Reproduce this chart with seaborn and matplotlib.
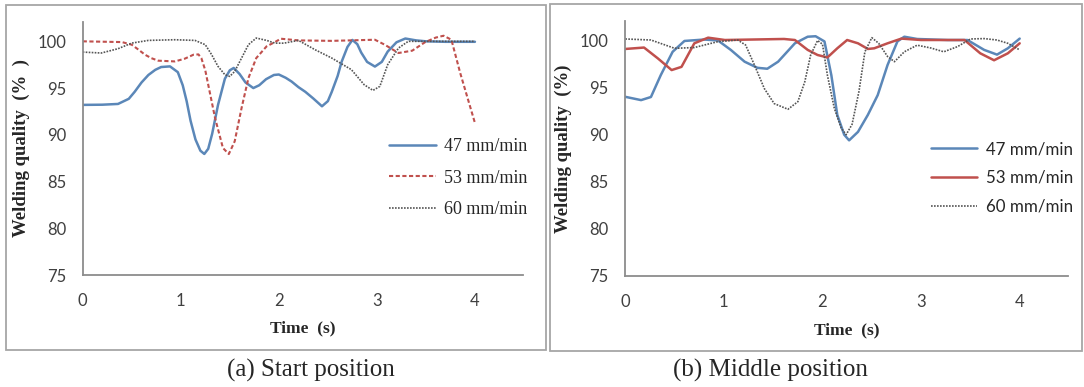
import numpy as np
import pandas as pd
import matplotlib.pyplot as plt
import seaborn as sns
from matplotlib.patches import Rectangle

# (a) start position
t_a_47 = [0, 0.2, 0.36, 0.47, 0.53, 0.6, 0.67, 0.74, 0.8, 0.89, 0.97, 1.02, 1.06, 1.1, 1.15,
          1.2, 1.24, 1.28, 1.32, 1.38, 1.45, 1.5, 1.54, 1.6, 1.66, 1.74, 1.8, 1.87, 1.95, 2.0,
          2.07, 2.13, 2.2, 2.27, 2.35, 2.44, 2.5, 2.54, 2.6, 2.64, 2.7, 2.75, 2.8, 2.84, 2.9,
          2.98, 3.05, 3.11, 3.2, 3.29, 3.4, 3.5, 3.7, 4.0]
q_a_47 = [93.2, 93.22, 93.3, 93.85, 94.6, 95.6, 96.4, 96.95, 97.25, 97.32, 96.7, 95.3, 93.6, 91.5, 89.5,
          88.3, 87.95, 88.5, 90.1, 93.2, 96.0, 96.9, 97.15, 96.5, 95.6, 95.0, 95.3, 95.95, 96.4, 96.45,
          96.1, 95.7, 95.1, 94.6, 93.9, 93.05, 93.6, 94.6, 96.3, 97.8, 99.4, 100.15, 99.7, 98.8, 97.8,
          97.3, 97.8, 98.9, 99.9, 100.3, 100.1, 100.0, 99.95, 99.95]

t_a_53 = [0, 0.4, 0.5, 0.57, 0.635, 0.7, 0.77, 0.94, 1.04, 1.13, 1.18, 1.21, 1.25, 1.28, 1.35,
          1.43, 1.49, 1.55, 1.62, 1.69, 1.77, 1.875, 1.96, 2.02, 2.2, 2.54, 2.98, 3.08, 3.22,
          3.36, 3.49, 3.6, 3.68, 3.76, 3.85, 3.93, 4.0]
q_a_53 = [100.0, 99.92, 99.64, 99.1, 98.57, 98.2, 97.93, 97.85, 98.14, 98.57, 98.6, 98.2, 96.9, 95.36, 91.79,
          88.59, 87.94, 89.3, 92.86, 96.07, 98.21, 99.46, 99.92, 100.28, 100.1, 100.05, 100.17, 99.64, 98.75,
          99.0, 99.9, 100.4, 100.6, 100.17, 96.6, 93.75, 91.26]

t_a_60 = [0, 0.19, 0.36, 0.5, 0.67, 0.94, 1.145, 1.25, 1.315, 1.38, 1.45, 1.5, 1.55, 1.62, 1.69,
          1.77, 1.875, 1.96, 2.05, 2.2, 2.37, 2.54, 2.74, 2.87, 2.96, 3.03, 3.11, 3.22, 3.32, 3.6, 4.0]
q_a_60 = [98.85, 98.75, 99.21, 99.81, 100.1, 100.17, 100.1, 99.64, 98.57, 97.32, 96.43, 96.25, 96.78, 98.21, 99.64,
          100.35, 100.1, 99.81, 99.8, 100.1, 99.1, 98.21, 96.97, 95.36, 94.75, 95.18, 97.5, 99.28, 100.0, 100.0, 100.0]

# (b) middle position
t_b_47 = [0, 0.16, 0.26, 0.36, 0.48, 0.6, 0.8, 0.94, 1.07, 1.21, 1.34, 1.44, 1.55, 1.72, 1.85,
          1.93, 2.02, 2.09, 2.15, 2.22, 2.27, 2.36, 2.46, 2.56, 2.66, 2.76, 2.83, 2.96, 3.27, 3.47,
          3.64, 3.77, 3.88, 4.0]
q_b_47 = [94.02, 93.67, 94.0, 96.33, 98.8, 99.95, 100.1, 100.0, 99.0, 97.75, 97.1, 97.0, 97.75, 99.7, 100.4,
          100.45, 99.9, 96.3, 92.1, 90.0, 89.4, 90.3, 92.1, 94.2, 97.4, 99.9, 100.4, 100.16, 100.05, 100.05,
          99.0, 98.5, 99.17, 100.2]

t_b_53 = [0, 0.19, 0.33, 0.47, 0.57, 0.7, 0.84, 1.01, 1.61, 1.72, 1.85, 1.95, 2.05, 2.15, 2.25,
          2.36, 2.46, 2.525, 2.66, 2.8, 3.0, 3.44, 3.6, 3.74, 3.88, 4.0]
q_b_53 = [99.1, 99.25, 98.1, 96.86, 97.2, 99.7, 100.3, 100.05, 100.16, 100.05, 99.0, 98.46, 98.2, 99.17, 100.05,
          99.7, 99.1, 99.17, 99.7, 100.2, 100.05, 100.05, 98.64, 97.9, 98.64, 99.7]

t_b_60 = [0, 0.26, 0.5, 0.7, 0.94, 1.14, 1.22, 1.31, 1.41, 1.51, 1.65, 1.75, 1.82, 1.88, 1.95,
          2.0, 2.05, 2.12, 2.19, 2.24, 2.3, 2.37, 2.43, 2.5, 2.57, 2.66, 2.73, 2.83, 2.96, 3.1,
          3.23, 3.37, 3.5, 3.64, 3.77, 3.88, 4.0]
q_b_60 = [100.16, 100.05, 99.17, 99.25, 99.88, 100.05, 99.52, 97.39, 94.9, 93.3, 92.7, 93.5, 95.6, 98.46, 100.0,
          99.6, 96.3, 92.8, 90.7, 90.0, 91.1, 94.6, 98.8, 100.3, 99.7, 98.3, 97.75, 98.8, 99.5, 99.2,
          98.8, 99.35, 100.16, 100.2, 100.05, 99.7, 99.0]

labels = ['47 mm/min', '53 mm/min', '60 mm/min']
x_ticks = [0, 1, 2, 3, 4]
y_ticks = [75, 80, 85, 90, 95, 100]

sns.set_style('white')
plt.rcParams['font.family'] = ['Lato', 'DejaVu Sans']

W, H = 1084, 387
fig = plt.figure(figsize=(W / 100, H / 100), dpi=100)

blue, red, grey = '#5b87b8', '#c0504d', '#555555'

def fx(px):
    return px / W

def fy(py):
    return 1 - py / H

# panel frames
fig.patches.append(Rectangle((fx(6), fy(350)), fx(546 - 6), (350 - 5) / H, transform=fig.transFigure,
                             fill=False, ec='#a6a6a6', lw=1.3))
fig.patches.append(Rectangle((fx(549.5), fy(351)), fx(1082 - 549.5), (351 - 3.5) / H, transform=fig.transFigure,
                             fill=False, ec='#a6a6a6', lw=1.3))

ax1 = fig.add_axes([fx(82.7), fy(275), fx(523 - 82.7), (275 - 21.7) / H])
ax2 = fig.add_axes([fx(625.3), fy(276), fx(1068 - 625.3), (276 - 20.7) / H])

sns.lineplot(x=t_a_47, y=q_a_47, ax=ax1, color=blue, lw=1.8, sort=False, label=labels[0])
sns.lineplot(x=t_a_53, y=q_a_53, ax=ax1, color=red, lw=1.5, linestyle=(0, (2.0, 1.2)), sort=False, label=labels[1])
sns.lineplot(x=t_a_60, y=q_a_60, ax=ax1, color=grey, lw=1.2, linestyle=(0, (1, 0.8)), sort=False, label=labels[2])

sns.lineplot(x=t_b_47, y=q_b_47, ax=ax2, color=blue, lw=1.8, sort=False, label=labels[0])
sns.lineplot(x=t_b_53, y=q_b_53, ax=ax2, color=red, lw=1.8, sort=False, label=labels[1])
sns.lineplot(x=t_b_60, y=q_b_60, ax=ax2, color=grey, lw=1.2, linestyle=(0, (1, 0.8)), sort=False, label=labels[2])

for ax, ylab in [(ax1, 'Welding quality  (%  )'), (ax2, 'Welding quality  (%)')]:
    ax.set_xlim(0, 4.49)
    ax.set_ylim(75, 102.1)
    ax.set_xticks(x_ticks)
    ax.set_yticks(y_ticks)
    ax.tick_params(length=0, labelsize=12, labelcolor='#404040')
    ax.tick_params(axis='y', pad=12)
    ax.tick_params(axis='x', pad=13)
    for s in ['top', 'right']:
        ax.spines[s].set_visible(False)
    for s in ['left', 'bottom']:
        ax.spines[s].set_color('#8c8c8c')
        ax.spines[s].set_linewidth(1.3)
    ax.set_ylabel(ylab, family='Liberation Serif', fontweight='bold', fontsize=13.5)
    ax.yaxis.set_label_coords(-0.12, 0.5)
    ax.set_xlabel('Time  (s)', family='Liberation Serif', fontweight='bold', fontsize=12.5)
    ax.xaxis.set_label_coords(0.5, -0.18)
    ax.patch.set_alpha(0)

ax1.legend(loc='center left', bbox_to_anchor=(0.696, 0.382), frameon=False, borderpad=0, borderaxespad=0,
           handlelength=2.6, handletextpad=0.45, labelspacing=0.8,
           prop={'family': 'Liberation Serif', 'size': 13})
ax2.legend(loc='center left', bbox_to_anchor=(0.69, 0.384), frameon=False, borderpad=0, borderaxespad=0,
           handlelength=2.7, handletextpad=0.55, labelspacing=0.75,
           prop={'family': 'Lato', 'size': 12.2})

fig.text(fx(311), fy(370), '(a) Start position', ha='center', va='center', family='Liberation Serif', fontsize=18)
fig.text(fx(770), fy(370), '(b) Middle position', ha='center', va='center', family='Liberation Serif', fontsize=18)

fig.savefig('out.png', dpi=100)
